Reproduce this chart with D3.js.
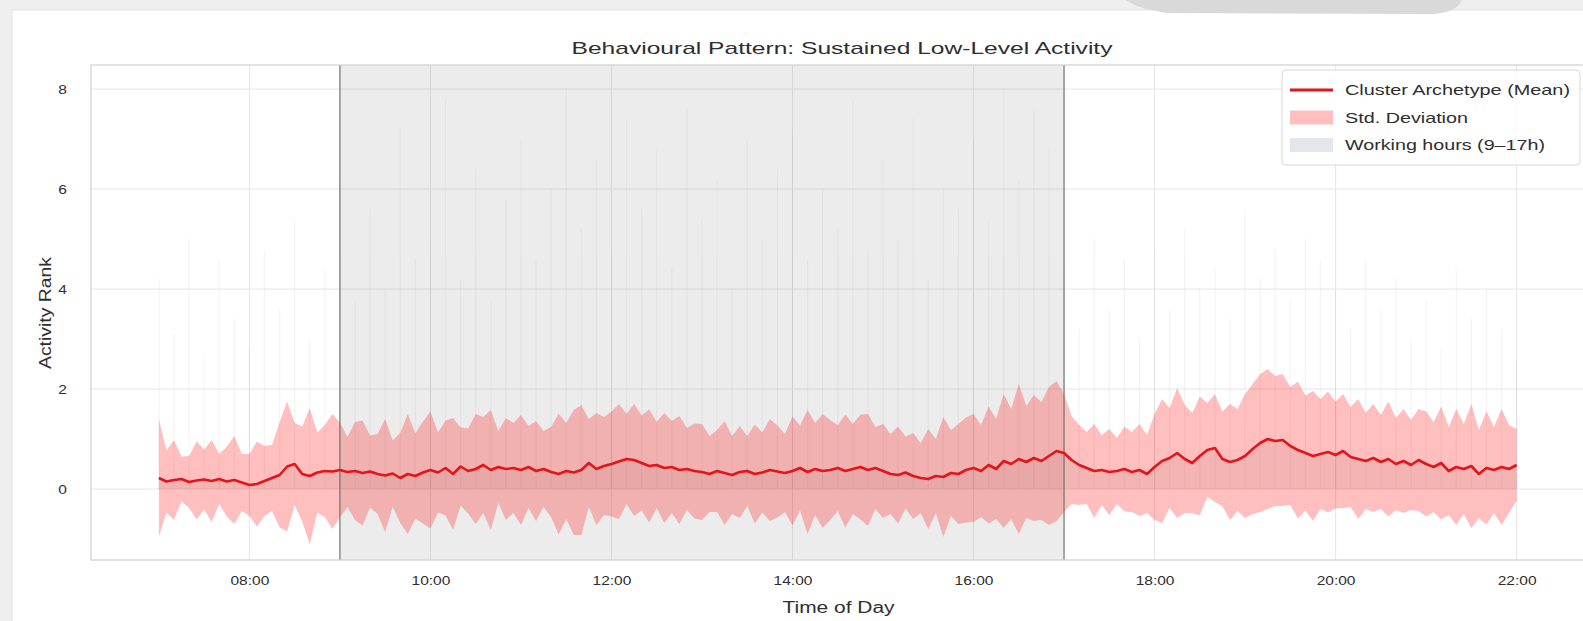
<!DOCTYPE html>
<html>
<head>
<meta charset="utf-8">
<script src="https://cdn.jsdelivr.net/npm/d3@7"></script>
<style>
  body { margin: 0; background: #efefef; }
  svg { display: block; font-family: "Liberation Sans", Arial, sans-serif; }
</style>
</head>
<body>
<svg id="chart" width="1583" height="621"></svg>
<script>
// one value every 5 minutes, 07:00 -> 22:00
const startHour = 7;
const stepMinutes = 5;

const meanRank = [
  0.22,0.15,0.18,0.20,0.14,0.17,0.19,0.16,0.20,0.15,0.18,0.13,
  0.08,0.10,0.16,0.22,0.28,0.45,0.50,0.30,0.26,0.33,0.36,0.35,
  0.38,0.34,0.36,0.32,0.35,0.30,0.27,0.31,0.22,0.30,0.26,0.33,
  0.38,0.33,0.42,0.30,0.45,0.36,0.40,0.48,0.38,0.44,0.40,0.42,
  0.38,0.44,0.36,0.40,0.34,0.30,0.36,0.33,0.38,0.52,0.40,0.46,
  0.50,0.55,0.60,0.58,0.52,0.46,0.48,0.42,0.44,0.38,0.40,0.36,
  0.34,0.30,0.36,0.32,0.28,0.34,0.36,0.30,0.33,0.38,0.35,0.32,
  0.36,0.42,0.34,0.40,0.36,0.38,0.42,0.36,0.40,0.44,0.38,0.42,
  0.36,0.30,0.28,0.33,0.26,0.22,0.20,0.26,0.24,0.32,0.30,0.38,
  0.42,0.36,0.48,0.40,0.56,0.50,0.60,0.54,0.62,0.56,0.66,0.76,
  0.72,0.58,0.48,0.42,0.36,0.38,0.34,0.36,0.40,0.34,0.38,0.30,
  0.44,0.56,0.62,0.72,0.60,0.52,0.66,0.78,0.82,0.60,0.54,0.58,
  0.66,0.80,0.92,1.00,0.96,0.98,0.86,0.78,0.72,0.66,0.70,0.74,
  0.68,0.76,0.64,0.60,0.56,0.62,0.54,0.60,0.50,0.56,0.48,0.58,
  0.50,0.44,0.52,0.36,0.44,0.40,0.46,0.30,0.42,0.38,0.44,0.40,
  0.48
];

const stdRank = [
  1.18,0.62,0.80,0.45,0.52,0.78,0.60,0.82,0.50,0.70,0.88,0.57,
  0.62,0.85,0.70,0.66,1.05,1.30,0.82,0.95,1.36,0.80,0.92,1.15,
  0.95,0.70,0.98,1.05,0.72,0.80,1.13,0.66,0.90,1.20,0.85,1.02,
  1.17,0.80,0.95,1.12,0.78,0.85,1.10,0.96,1.20,0.72,1.02,0.90,
  1.10,0.82,1.00,0.76,0.90,1.21,0.96,1.25,1.30,0.88,1.12,0.98,
  1.05,1.15,0.90,1.12,0.95,1.13,0.86,1.10,0.92,1.08,0.82,0.95,
  0.96,0.76,0.82,1.04,0.78,0.92,0.70,0.99,0.80,1.02,0.92,0.78,
  1.09,0.85,1.24,0.92,1.14,1.00,0.86,1.13,0.90,1.05,1.12,0.82,
  0.94,0.80,0.97,0.72,0.86,0.70,1.00,0.74,1.20,0.86,1.00,1.05,
  1.08,0.92,1.17,1.00,1.34,1.10,1.50,1.12,1.26,1.18,1.38,1.40,
  1.18,0.88,0.80,0.72,0.94,0.70,0.86,0.66,0.85,0.80,0.92,0.78,
  1.06,1.24,1.00,1.30,1.08,1.00,1.19,0.94,1.08,0.95,1.16,1.02,
  1.24,1.30,1.38,1.40,1.30,1.32,1.18,1.37,1.15,1.30,1.10,1.21,
  1.07,1.14,1.00,1.20,0.96,1.08,0.94,1.15,0.92,1.04,0.90,1.02,
  1.05,0.90,1.13,0.88,1.16,0.90,1.24,0.88,1.13,0.86,1.16,0.88,
  0.72
];

// faint individual traces, peak rank every 10 minutes
const traceStepMinutes = 10;
const tracePeaks = [
  4.2,3.1,5.0,2.6,4.6,3.4,
  2.8,4.8,3.6,5.4,3.0,4.4,
  6.2,3.8,5.6,4.0,7.2,4.6,
  5.0,7.8,4.2,6.4,3.8,5.8,
  7.0,4.6,6.0,8.0,5.2,6.6,
  4.8,7.4,5.6,6.8,4.4,7.6,
  5.4,6.2,4.0,7.0,5.0,6.4,
  7.2,4.6,6.0,5.2,7.8,4.8,
  6.6,5.0,7.4,4.2,6.0,5.6,
  7.0,5.4,8.0,6.2,7.6,6.8,
  4.4,3.2,5.0,3.6,4.6,3.0,
  4.8,3.6,5.2,4.0,4.4,3.4,
  5.6,4.2,4.8,3.8,5.0,4.6,
  4.0,3.2,4.6,3.6,4.2,3.0,
  3.8,2.8,4.4,3.4,4.0,3.2,
  2.6
];

const xTickHours = [8, 10, 12, 14, 16, 18, 20, 22];
const yTicks = [0, 2, 4, 6, 8];
const workStart = 9, workEnd = 17;
const legendLabels = ['Cluster Archetype (Mean)', 'Std. Deviation', 'Working hours (9\u201317h)'];

const width = 1583, height = 621;
const plot = {left: 91, right: 1584.5, top: 65, bottom: 560};
const textColor = '#2e2e2e';
// the picture's lettering is drawn wider than plain Arial
const tickStretch = 1.15;

const svg = d3.select('#chart');

// page frame around the figure
svg.append('rect').attr('width', width).attr('height', height).attr('fill', '#efefef');
svg.append('rect')
    .attr('x', 12).attr('y', 10).attr('width', width).attr('height', height)
    .attr('fill', '#fff').attr('stroke', '#e4e4e4');
svg.append('path')
    .attr('d', 'M1126,0 L1462,0 Q1456,13 1432,14 L1170,13 Q1140,10 1126,0 Z')
    .attr('fill', '#d9d9d9');

const x = d3.scaleLinear().domain([6.25, 22.75]).range([plot.left, plot.right]);
const y = d3.scaleLinear().domain([-1.42, 8.48]).range([plot.bottom, plot.top]);

const rows = meanRank.map((m, i) => ({h: startHour + i * stepMinutes / 60, m: m, s: stdRank[i]}));
const traces = tracePeaks.map((p, i) => ({h: startHour + i * traceStepMinutes / 60, p: p}));

svg.append('clipPath').attr('id', 'plot-clip')
  .append('rect')
    .attr('x', plot.left).attr('y', plot.top)
    .attr('width', plot.right - plot.left).attr('height', plot.bottom - plot.top);

const g = svg.append('g').attr('clip-path', 'url(#plot-clip)');

// grid
g.append('g').selectAll('line').data(yTicks).join('line')
    .attr('x1', plot.left).attr('x2', plot.right)
    .attr('y1', d => y(d)).attr('y2', d => y(d))
    .attr('stroke', '#e6e6e6').attr('stroke-width', 1);
g.append('g').selectAll('line').data(xTickHours).join('line')
    .attr('x1', d => x(d)).attr('x2', d => x(d))
    .attr('y1', plot.top).attr('y2', plot.bottom)
    .attr('stroke', '#e6e6e6').attr('stroke-width', 1);

// working hours
g.append('rect')
    .attr('x', x(workStart)).attr('width', x(workEnd) - x(workStart))
    .attr('y', plot.top).attr('height', plot.bottom - plot.top)
    .attr('fill', '#808080').attr('opacity', 0.15);

// faint member traces
g.append('g').selectAll('line').data(traces).join('line')
    .attr('x1', d => x(d.h)).attr('x2', d => x(d.h))
    .attr('y1', y(0)).attr('y2', d => y(d.p))
    .attr('stroke', '#9a9a9a').attr('stroke-width', 1.2).attr('opacity', 0.1);

// members overlap most between zero and the mean
g.append('path').datum(rows)
    .attr('d', d3.area().x(d => x(d.h)).y0(y(0)).y1(d => y(d.m)))
    .attr('fill', '#7a7a7a').attr('opacity', 0.1);

// std band
g.append('path').datum(rows)
    .attr('d', d3.area().x(d => x(d.h)).y0(d => y(d.m - d.s)).y1(d => y(d.m + d.s)))
    .attr('fill', '#ff0000').attr('opacity', 0.25);

// working hour borders
g.append('g').selectAll('line').data([workStart, workEnd]).join('line')
    .attr('x1', d => x(d)).attr('x2', d => x(d))
    .attr('y1', plot.top).attr('y2', plot.bottom)
    .attr('stroke', '#727272').attr('stroke-width', 1.2);

// mean line
g.append('path').datum(rows)
    .attr('d', d3.line().x(d => x(d.h)).y(d => y(d.m)))
    .attr('fill', 'none').attr('stroke', '#e3141a').attr('stroke-width', 2.6)
    .attr('stroke-linejoin', 'round');

// spines
svg.append('rect')
    .attr('x', plot.left).attr('y', plot.top)
    .attr('width', plot.right - plot.left).attr('height', plot.bottom - plot.top)
    .attr('fill', 'none').attr('stroke', '#d0d0d0').attr('stroke-width', 1.2);

// axes
const xAxis = svg.append('g')
    .attr('transform', `translate(0,${plot.bottom})`)
    .call(d3.axisBottom(x).tickValues(xTickHours)
        .tickFormat(h => String(h).padStart(2, '0') + ':00')
        .tickSize(0).tickPadding(15));
const yAxis = svg.append('g')
    .attr('transform', `translate(${plot.left},0)`)
    .call(d3.axisLeft(y).tickValues(yTicks).tickSize(0));

[xAxis, yAxis].forEach(a => {
    a.select('.domain').remove();
    a.selectAll('text')
        .attr('font-size', 13.5)
        .attr('fill', textColor)
        .attr('font-family', '"Liberation Sans", Arial, sans-serif');
});
xAxis.selectAll('text').attr('transform', `scale(${tickStretch},1)`);
yAxis.selectAll('text').attr('x', 0).attr('transform', `translate(-24,0) scale(${tickStretch},1)`);

// titles, stretched to the widths seen in the picture
svg.append('text')
    .attr('x', 842 - 270.5).attr('y', 53.5)
    .attr('font-size', 17).attr('fill', textColor)
    .attr('textLength', 541).attr('lengthAdjust', 'spacingAndGlyphs')
    .text('Behavioural Pattern: Sustained Low-Level Activity');
svg.append('text')
    .attr('x', 838.5 - 56).attr('y', 612.5)
    .attr('font-size', 16).attr('fill', textColor)
    .attr('textLength', 112).attr('lengthAdjust', 'spacingAndGlyphs')
    .text('Time of Day');
svg.append('text')
    .attr('transform', 'translate(51,313) rotate(-90)')
    .attr('x', -56)
    .attr('font-size', 16).attr('fill', textColor)
    .attr('textLength', 112).attr('lengthAdjust', 'spacingAndGlyphs')
    .text('Activity Rank');

// legend
const legend = svg.append('g').attr('transform', 'translate(1282,70)');
legend.append('rect')
    .attr('width', 298).attr('height', 95).attr('rx', 4)
    .attr('fill', '#fff').attr('fill-opacity', 0.85)
    .attr('stroke', '#d8d8d8');
const rowY = [20, 47.5, 75];
const labelWidths = [225, 123, 200];
legend.append('line')
    .attr('x1', 8).attr('x2', 51).attr('y1', rowY[0]).attr('y2', rowY[0])
    .attr('stroke', '#e3141a').attr('stroke-width', 3);
legend.append('rect')
    .attr('x', 8).attr('y', rowY[1] - 7).attr('width', 43).attr('height', 14)
    .attr('fill', '#ff0000').attr('opacity', 0.25);
legend.append('rect')
    .attr('x', 8).attr('y', rowY[2] - 7).attr('width', 43).attr('height', 14)
    .attr('fill', '#e3e6eb');
legend.selectAll('text.label').data(legendLabels).join('text')
    .attr('class', 'label')
    .attr('x', 63).attr('y', (d, i) => rowY[i] + 5.2)
    .attr('font-size', 14.5).attr('fill', textColor)
    .attr('textLength', (d, i) => labelWidths[i]).attr('lengthAdjust', 'spacingAndGlyphs')
    .text(d => d);
</script>
</body>
</html>
